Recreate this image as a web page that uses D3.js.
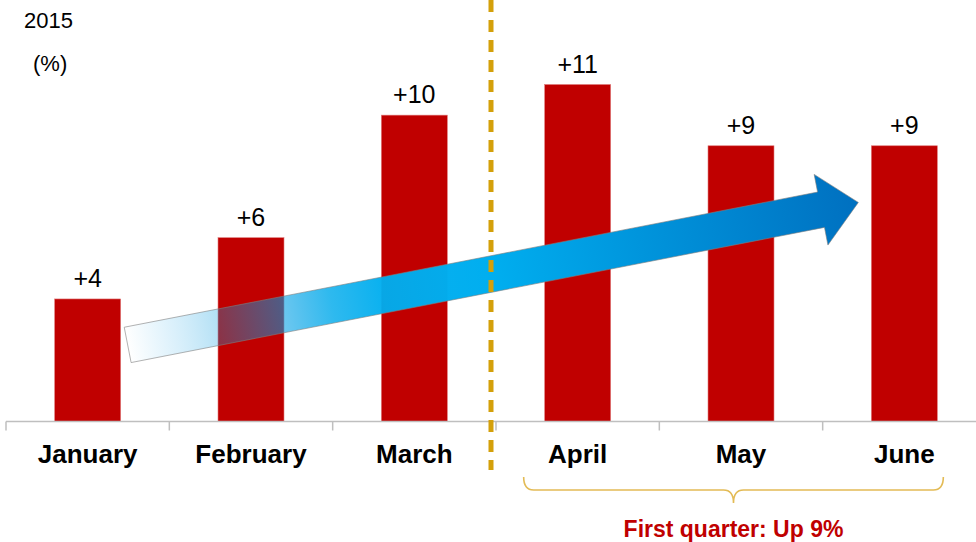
<!DOCTYPE html>
<html>
<head>
<meta charset="utf-8">
<script src="https://cdn.jsdelivr.net/npm/d3@7"></script>
<style>
  html, body { margin: 0; padding: 0; background: #fff; }
  svg { display: block; font-family: "Liberation Sans", Arial, sans-serif; }
</style>
</head>
<body>
<svg id="chart" width="976" height="542"></svg>
<script>
const categories = ["January", "February", "March", "April", "May", "June"];
const values = [4, 6, 10, 11, 9, 9];
const valueLabels = ["+4", "+6", "+10", "+11", "+9", "+9"];
const yearLabel = "2015";
const unitLabel = "(%)";
const noteLabel = "First quarter: Up 9%";
const trendFrom = 2.5;   // arrow start level (value units)
const trendTo = 7.15;    // arrow tip level (value units)

const svg = d3.select("#chart");

const x = d3.scaleBand().domain(categories).range([6, 986]).padding(0);
const y = d3.scaleLinear().domain([0, 11]).range([421.5, 84.5]);
const barW = x.bandwidth() * 0.404;
const cx = d => x(d) + x.bandwidth() / 2;

// bars
svg.append("g").selectAll("rect").data(categories).join("rect")
  .attr("x", d => cx(d) - barW / 2)
  .attr("y", (d, i) => y(values[i]))
  .attr("width", barW)
  .attr("height", (d, i) => y(0) - y(values[i]))
  .attr("fill", "#c00000")
  .attr("stroke", "#e07a7a")
  .attr("stroke-width", 0.6);

// value labels
svg.append("g").selectAll("text").data(categories).join("text")
  .attr("x", d => cx(d))
  .attr("y", (d, i) => y(values[i]) - 12)
  .attr("text-anchor", "middle")
  .attr("font-size", 25)
  .attr("fill", "#000")
  .text((d, i) => valueLabels[i]);

// axis line + ticks
const axisY = y(0);
const ag = svg.append("g");
ag.append("line").attr("x1", x.range()[0]).attr("x2", x.range()[1])
  .attr("y1", axisY).attr("y2", axisY)
  .attr("stroke", "#bfbfbf").attr("stroke-width", 1.5);
const tickXs = categories.map(d => x(d)).concat([x.range()[1]]);
ag.selectAll("line.tick").data(tickXs).join("line").attr("class", "tick")
  .attr("x1", d => d).attr("x2", d => d)
  .attr("y1", axisY).attr("y2", axisY + 9)
  .attr("stroke", "#bfbfbf").attr("stroke-width", 1.5);

// category labels
svg.append("g").selectAll("text").data(categories).join("text")
  .attr("x", d => cx(d))
  .attr("y", 463)
  .attr("text-anchor", "middle")
  .attr("font-size", 26)
  .attr("font-weight", "bold")
  .attr("fill", "#000")
  .text(d => d);

// gradient arrow
const defs = svg.append("defs");
const grad = defs.append("linearGradient").attr("id", "arrowGrad")
  .attr("x1", 0).attr("y1", 0).attr("x2", 1).attr("y2", 0);
[
  [0, "rgb(255,255,255)", 0.25],
  [0.06, "rgb(120,200,240)", 0.25],
  [0.12, "rgb(24,161,225)", 0.31],
  [0.21, "rgb(0,158,228)", 0.57],
  [0.28, "rgb(0,170,235)", 0.82],
  [0.35, "rgb(0,174,239)", 0.96],
  [0.5, "rgb(0,174,239)", 1],
  [1, "rgb(0,112,192)", 1]
].forEach(s => grad.append("stop").attr("offset", s[0])
  .attr("stop-color", s[1]).attr("stop-opacity", s[2]));

const tail = [cx("January") + 40, y(trendFrom)];
const tip = [cx("June") - 46, y(trendTo)];
const L = Math.hypot(tip[0] - tail[0], tip[1] - tail[1]);
const ang = Math.atan2(tip[1] - tail[1], tip[0] - tail[0]) * 180 / Math.PI;
const sh = 18, hh = 36, hl = 38;
const pts = [[0, -sh], [L - hl, -sh], [L - hl, -hh], [L, 0], [L - hl, hh], [L - hl, sh], [0, sh]];
svg.append("g")
  .attr("transform", `translate(${tail[0]},${tail[1]}) rotate(${ang})`)
  .append("path")
  .attr("d", d3.line()(pts) + "Z")
  .attr("fill", "url(#arrowGrad)")
  .attr("stroke", "#7f7f7f")
  .attr("stroke-opacity", 0.7)
  .attr("stroke-width", 0.8);

// divider dashed line
const divX = x("April") - 5;
svg.append("line")
  .attr("x1", divX).attr("x2", divX)
  .attr("y1", 0).attr("y2", 470)
  .attr("stroke", "#d4a00a")
  .attr("stroke-width", 5)
  .attr("stroke-dasharray", "12,8");

// brace
const bl = cx("April") - 54, br = cx("June") + 39, bm = (bl + br) / 2;
const bt = 477, bh = 490, bb = 503;
svg.append("path")
  .attr("d", `M${bl},${bt} Q${bl},${bh} ${bl + 10},${bh} L${bm - 10},${bh} Q${bm},${bh} ${bm},${bb} Q${bm},${bh} ${bm + 10},${bh} L${br - 10},${bh} Q${br},${bh} ${br},${bt}`)
  .attr("fill", "none")
  .attr("stroke", "#e3bb55")
  .attr("stroke-width", 1.6);

svg.append("text")
  .attr("x", bm).attr("y", 537)
  .attr("text-anchor", "middle")
  .attr("font-size", 23)
  .attr("font-weight", "bold")
  .attr("fill", "#c00000")
  .text(noteLabel);

// top-left labels
svg.append("text").attr("x", 24).attr("y", 28)
  .attr("font-size", 22).attr("fill", "#000").text(yearLabel);
svg.append("text").attr("x", 33).attr("y", 71)
  .attr("font-size", 22).attr("fill", "#000").text(unitLabel);
</script>
</body>
</html>
